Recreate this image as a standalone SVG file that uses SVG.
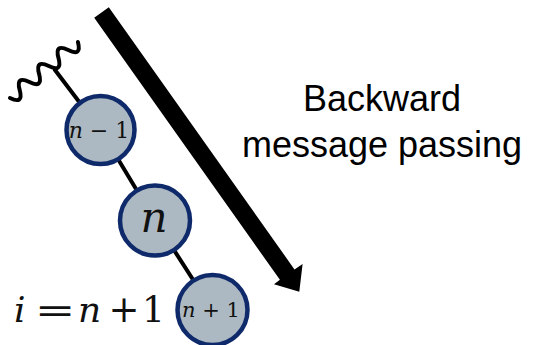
<svg xmlns="http://www.w3.org/2000/svg" width="533" height="345" viewBox="0 0 533 345">
<style>
.node{fill:#adb9c2;stroke:#0f2a6a;stroke-width:4.5}
.edge{fill:none;stroke:#000;stroke-width:4;stroke-linecap:round;stroke-linejoin:round}
.math{font-family:"DejaVu Serif","Liberation Serif",serif;fill:#111}
.it{font-style:italic}
.lbl{font-family:"Liberation Sans",Arial,sans-serif;font-size:36px;fill:#000;text-anchor:middle}
</style>
<rect width="533" height="345" fill="#fff"/>
<g id="connectors">
<path class="edge" d="M55,70 L100.5,130 L155,220.5 L212.5,310"/>
<path class="edge" stroke-width="3" transform="translate(10,98) rotate(-39.5)" d="M0,0 q6.28,14 12.57,0 t12.57,0 t12.57,0 t12.57,0 t12.57,0 t12.57,0 t12.57,0"/>
</g>
<g id="arrow">
<polygon fill="#000" points="94.2,17.7 108.8,7.3 294.5,269.4 302.6,264.1 299.3,291.7 274,284.3 279.9,279.8"/>
</g>
<g id="node-n-1">
<circle class="node" cx="100.5" cy="130" r="34"/>
<text class="math" font-size="22" x="99" y="138" text-anchor="middle"><tspan class="it">n</tspan> − 1</text>
</g>
<g id="node-n">
<circle class="node" cx="155" cy="220.5" r="35"/>
<text class="math it" font-size="42" x="154" y="232" text-anchor="middle">n</text>
</g>
<g id="node-n+1">
<circle class="node" cx="212.5" cy="310" r="35"/>
<text class="math" font-size="21" x="211" y="317" text-anchor="middle"><tspan class="it">n</tspan> + 1</text>
</g>
<g id="label-i">
<text class="math it" font-size="36" x="14" y="322">i</text>
<text class="math" font-size="36" text-anchor="middle" transform="translate(55,322) scale(1.35,1)">=</text>
<text class="math it" font-size="36" x="78" y="322">n</text>
<text class="math" font-size="37" x="124" y="322" text-anchor="middle">+</text>
<text class="math" font-size="36" x="142" y="322">1</text>
</g>
<g id="title">
<text class="lbl" x="382" y="111">Backward</text>
<text class="lbl" x="382" y="157">message passing</text>
</g>
</svg>
